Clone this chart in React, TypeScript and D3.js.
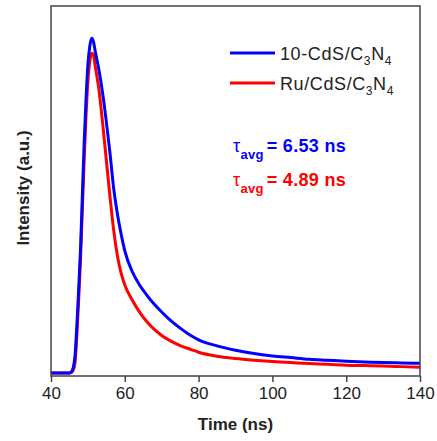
import { useEffect, useRef } from 'react';
import * as d3 from 'd3';

// Time axis (ns) shared by both decay curves
const times = [
  40, 45, 45.5, 46, 46.5, 47, 47.5, 48, 48.5, 49,
  49.5, 50, 50.5, 51, 51.5, 52, 53, 54, 55, 56,
  57, 58, 59, 60, 62, 64, 66, 68, 70, 72,
  75, 78, 80, 85, 90, 95, 100, 105, 110, 115,
  120, 125, 130, 135, 140,
];

// 10-CdS/C3N4 (normalised intensity)
const cdsValues = [
  0, 0, 0.003, 0.015, 0.05, 0.14, 0.25, 0.37, 0.53, 0.69,
  0.82, 0.92, 0.975, 1.0, 0.99, 0.96, 0.905, 0.835, 0.75, 0.655,
  0.55, 0.475, 0.415, 0.365, 0.303, 0.263, 0.232, 0.205, 0.182, 0.161,
  0.134, 0.111, 0.099, 0.081, 0.068, 0.058, 0.051, 0.046, 0.041, 0.038,
  0.035, 0.033, 0.031, 0.03, 0.029,
];

// Ru/CdS/C3N4
const ruValues = [
  0, 0, 0.001, 0.008, 0.03, 0.11, 0.22, 0.34, 0.49, 0.64,
  0.77, 0.87, 0.93, 0.955, 0.95, 0.915, 0.845, 0.745, 0.635, 0.525,
  0.425, 0.35, 0.298, 0.263, 0.218, 0.182, 0.153, 0.13, 0.112, 0.098,
  0.082, 0.07, 0.062, 0.05, 0.043, 0.038, 0.034, 0.031, 0.028, 0.026,
  0.023, 0.022, 0.021, 0.019, 0.017,
];

const xTicks = [40, 60, 80, 100, 120, 140];

const seriesNames = ['10-CdS/C', 'Ru/CdS/C'];
const seriesColors = ['#0000ff', '#ff0000'];
const tauValues = ['6.53', '4.89'];

const FONT = "Arial, 'Liberation Sans', sans-serif";

const App = () => {
  const svgRef = useRef<SVGSVGElement>(null);

  useEffect(() => {
    if (!svgRef.current) return;
    const svg = d3.select(svgRef.current);
    svg.selectAll('*').remove();

    const margin = { top: 6, right: 17, bottom: 65, left: 51 };
    const width = 437 - margin.left - margin.right;
    const height = 441 - margin.top - margin.bottom;

    const g = svg
      .append('g')
      .attr('transform', `translate(${margin.left},${margin.top})`);

    const x = d3.scaleLinear().domain([40, 140]).range([0, width]);
    const y = d3.scaleLinear().domain([-0.009, 1.096]).range([height, 0]);

    // x axis with outward ticks
    const xAxis = d3.axisBottom(x).tickValues(xTicks).tickSize(6).tickPadding(5);
    const ax = g.append('g').attr('transform', `translate(0,${height})`).call(xAxis);
    ax.select('.domain').remove();
    ax.selectAll('line').attr('stroke', '#444').attr('stroke-width', 1.5);
    ax.selectAll('text')
      .attr('font-family', FONT)
      .attr('font-size', 17)
      .attr('fill', '#222');

    // curves: red first, blue on top
    const line = d3
      .line<number>()
      .x((_, i) => x(times[i]))
      .y(d => y(d))
      .curve(d3.curveMonotoneX);

    [ruValues, cdsValues].forEach((vals, i) => {
      g.append('path')
        .datum(vals)
        .attr('fill', 'none')
        .attr('stroke', seriesColors[1 - i])
        .attr('stroke-width', 3)
        .attr('stroke-linejoin', 'round')
        .attr('d', line);
    });

    // frame
    g.append('rect')
      .attr('width', width)
      .attr('height', height)
      .attr('fill', 'none')
      .attr('stroke', '#444')
      .attr('stroke-width', 1.5);

    // legend
    seriesNames.forEach((name, i) => {
      const ly = 47 + i * 30;
      g.append('line')
        .attr('x1', 179)
        .attr('x2', 224)
        .attr('y1', ly)
        .attr('y2', ly)
        .attr('stroke', seriesColors[i])
        .attr('stroke-width', 3);
      const t = g
        .append('text')
        .attr('x', 229)
        .attr('y', ly + 7)
        .attr('font-family', FONT)
        .attr('font-size', 18)
        .attr('fill', '#222')
        .attr('letter-spacing', 0.6);
      t.append('tspan').text(name);
      t.append('tspan').attr('font-size', 12).attr('dy', 5).text('3');
      t.append('tspan').attr('dy', -5).text('N');
      t.append('tspan').attr('font-size', 12).attr('dy', 5).text('4');
    });

    // lifetimes
    tauValues.forEach((tau, i) => {
      const ty = 146 + i * 34;
      const t = g
        .append('text')
        .attr('x', 182)
        .attr('y', ty)
        .attr('font-family', FONT)
        .attr('font-size', 18)
        .attr('font-weight', 'bold')
        .attr('fill', seriesColors[i])
        .attr('letter-spacing', 0.3);
      t.append('tspan').attr('font-weight', 'normal').text('τ');
      t.append('tspan').attr('font-size', 13).attr('dy', 7).text('avg');
      t.append('tspan').attr('dy', -7).attr('dx', 3).text(`= ${tau} ns`);
    });

    // axis titles
    g.append('text')
      .attr('x', width / 2)
      .attr('y', height + 54)
      .attr('text-anchor', 'middle')
      .attr('font-family', FONT)
      .attr('font-size', 17)
      .attr('font-weight', 'bold')
      .attr('fill', '#222')
      .text('Time (ns)');

    g.append('text')
      .attr('transform', 'rotate(-90)')
      .attr('x', -(188 - margin.top))
      .attr('y', -22)
      .attr('text-anchor', 'middle')
      .attr('font-family', FONT)
      .attr('font-size', 17)
      .attr('font-weight', 'bold')
      .attr('fill', '#222')
      .text('Intensity (a.u.)');
  }, []);

  return (
    <svg
      ref={svgRef}
      width={437}
      height={441}
      style={{ position: 'absolute', left: 0, top: 0, background: '#fff' }}
    />
  );
};

export default App;
